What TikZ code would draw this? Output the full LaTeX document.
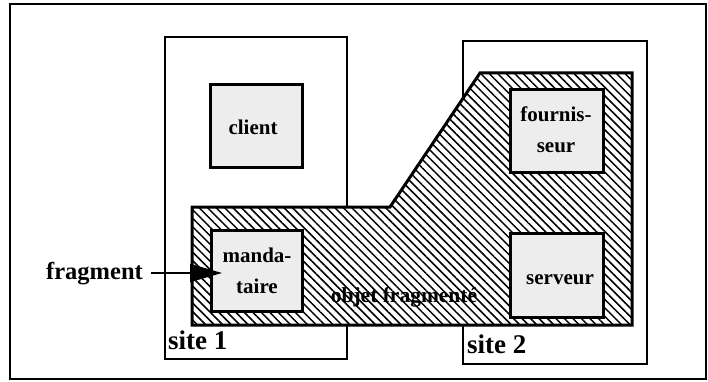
\documentclass[tikz,border=0pt]{standalone}
\usepackage{fontspec}
\setmainfont{Liberation Serif}
\usetikzlibrary{patterns.meta,arrows.meta}
\begin{document}
\begin{tikzpicture}[x=1pt,y=-1pt,
  sitebox/.style={draw=black,line width=2pt,fill=white},
  compbox/.style={draw=black,line width=3pt,fill=black!7},
  hatched/.style={draw=black,line width=3pt,fill=white,
    postaction={pattern={Lines[angle=-45,distance=6pt,line width=1.5pt]}}},
  boxlabel/.style={font=\bfseries\fontsize{21}{31}\selectfont,align=center,inner sep=0pt},
  sitelabel/.style={font=\bfseries\fontsize{27}{30}\selectfont,anchor=base west,inner sep=0pt},
  arr/.style={line width=2pt,-{Triangle[length=32pt,width=18pt]}}]
\useasboundingbox (0,0) rectangle (708,382);
% outer frame
\draw[line width=2pt] (10,4) rectangle (706,379);
% sites
\draw[sitebox] (165,37) rectangle (347,359);
\draw[sitebox] (463,41) rectangle (647,364);
% fragmented object
\draw[hatched] (192,207) -- (390,207) -- (480,73) -- (632,73) -- (632,325) -- (192,325) -- cycle;
% components
\draw[compbox] (210,85) rectangle (302,167);
\draw[compbox] (211,230) rectangle (302,311);
\draw[compbox] (510,90) rectangle (603,172);
\draw[compbox] (510,233) rectangle (603,317);
\node[boxlabel] (client) at (253,127) {client};
\node[boxlabel] (mand) at (257,271) {manda-\\taire};
\node[boxlabel] (fourn) at (556,130) {fournis-\\seur};
\node[boxlabel] (serv) at (560,280) {serveur};
\node[font=\bfseries\fontsize{21.5}{26}\selectfont,inner sep=0pt] (obj) at (404,297) {objet fragmenté};
\node[sitelabel] (s1) at (168,349) {site 1};
\node[sitelabel] (s2) at (467,353) {site 2};
\node[font=\bfseries\fontsize{24.5}{30}\selectfont,anchor=base west,inner sep=0pt] (frag) at (46,279) {fragment};
\coordinate (a0) at (151,273);
\coordinate (tip) at (222,273);
\draw[arr] (a0) -- (tip);
\end{tikzpicture}
\end{document}
